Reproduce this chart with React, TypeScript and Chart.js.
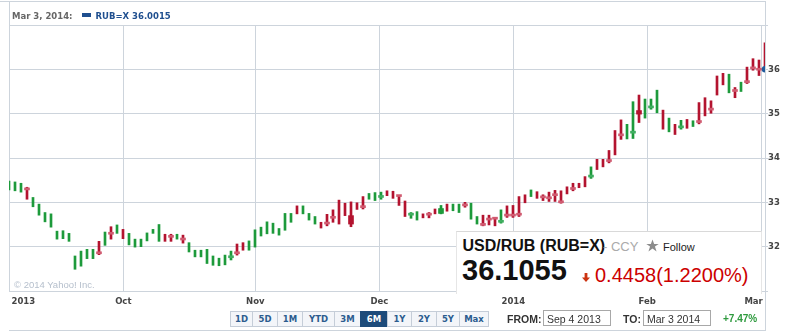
import React, { useEffect, useRef } from 'react';
import { Chart, registerables } from 'chart.js';

Chart.register(...registerables);

// ---- data ----
const highs = [
  33.48, 33.46, 33.43, 33.34, 33.11, 32.96, 32.77, 32.74, 32.35, 32.36,
  32.30, 31.79, 31.90, 31.94, 31.94, 32.12, 32.33, 32.45, 32.49, 32.39,
  32.30, 32.17, 32.17, 32.31, 32.39, 32.50, 32.28, 32.28, 32.28, 32.26,
  32.09, 31.92, 31.92, 31.94, 31.79, 31.74, 31.81, 31.90, 32.06, 32.09,
  32.13, 32.38, 32.44, 32.56, 32.53, 32.41, 32.75, 32.75, 32.92, 32.92,
  32.75, 32.68, 32.55, 32.73, 32.83, 33.05, 32.98, 33.01, 32.99, 33.13,
  33.20, 33.22, 33.23, 33.26, 33.25, 33.14, 33.03, 32.77, 32.79, 32.74,
  32.77, 32.85, 32.93, 32.96, 32.96, 32.96, 33.00, 32.98, 32.68, 32.71,
  32.71, 32.66, 32.83, 32.92, 32.93, 33.13, 33.17, 33.28, 33.24, 33.17,
  33.23, 33.27, 33.26, 33.35, 33.43, 33.43, 33.58, 33.80, 33.97, 33.97,
  34.17, 34.62, 34.86, 34.76, 35.27, 35.42, 35.33, 35.33, 35.53, 35.08,
  34.90, 34.76, 34.85, 34.87, 34.84, 35.25, 35.36, 35.29, 35.85, 35.91,
  35.89, 35.59, 35.71, 36.05, 36.24, 36.21, 36.60,
];
const lows = [
  33.28, 33.26, 33.23, 33.07, 32.90, 32.71, 32.56, 32.44, 32.17, 32.18,
  32.12, 31.49, 31.56, 31.73, 31.73, 31.82, 32.03, 32.17, 32.30, 32.18,
  32.04, 31.99, 32.00, 32.13, 32.30, 32.12, 32.12, 32.12, 32.17, 32.08,
  31.88, 31.77, 31.77, 31.62, 31.58, 31.57, 31.59, 31.70, 31.81, 31.92,
  31.92, 31.99, 32.24, 32.29, 32.30, 32.26, 32.37, 32.55, 32.74, 32.74,
  32.60, 32.51, 32.42, 32.47, 32.55, 32.51, 32.70, 32.45, 32.84, 32.85,
  33.07, 33.04, 33.07, 33.15, 33.09, 32.93, 32.68, 32.64, 32.60, 32.65,
  32.65, 32.74, 32.74, 32.80, 32.81, 32.77, 32.89, 32.62, 32.51, 32.47,
  32.49, 32.47, 32.53, 32.66, 32.66, 32.68, 32.99, 33.13, 33.09, 33.04,
  33.02, 33.02, 32.98, 33.19, 33.26, 33.33, 33.35, 33.54, 33.74, 33.80,
  33.89, 34.07, 34.42, 34.43, 34.44, 34.80, 34.90, 35.10, 35.02, 34.65,
  34.59, 34.53, 34.65, 34.67, 34.71, 34.77, 34.95, 35.01, 35.42, 35.65,
  35.47, 35.36, 35.50, 35.68, 35.98, 35.86, 35.98,
];
const N = null;
const opens = [
  N, N, N, 33.28, N, N, N, N, N, N,
  N, N, N, N, N, 31.84, N, 32.28, N, N,
  N, N, N, N, N, N, N, 32.25, N, 32.15,
  N, N, N, N, N, N, N, 31.75, 31.84, N,
  N, N, N, N, N, N, N, N, N, N,
  N, N, N, 32.51, 32.64, N, N, 32.70, N, 32.88,
  N, N, 33.11, N, N, 33.13, N, 32.71, N, N,
  32.71, N, 32.75, N, N, N, 32.92, N, N, 32.48,
  32.60, 32.62, 32.55, 32.69, 32.69, 32.71, N, N, N, 33.10,
  33.08, 33.15, 32.99, N, 33.29, N, N, 33.57, N, N,
  33.92, N, 34.50, N, 34.56, 35.07, N, 35.13, N, N,
  N, N, 34.68, N, N, 34.80, N, 35.08, N, N,
  N, 35.50, N, 35.70, 36.01, 35.98, N,
];
const closes = [
  N, N, N, 33.28, N, N, N, N, N, N,
  N, N, N, N, N, 31.84, N, 32.28, N, N,
  N, N, N, N, N, N, N, 32.21, N, 32.15,
  N, N, N, N, N, N, N, 31.75, 31.84, N,
  N, N, N, N, N, N, N, N, N, N,
  N, N, N, 32.51, 32.64, N, N, 32.51, N, 32.88,
  N, N, 33.11, N, N, 33.13, N, 32.71, N, N,
  32.71, N, 32.86, N, N, N, 32.92, N, N, 32.48,
  32.60, 32.62, 32.55, 32.69, 32.69, 32.71, N, N, N, 33.10,
  33.08, 33.15, 32.99, N, 33.29, N, N, 33.57, N, N,
  33.92, N, 34.50, N, 34.56, 34.99, N, 35.13, N, N,
  N, N, 34.68, N, N, 34.80, N, 35.08, N, N,
  N, 35.50, N, 35.70, 36.01, 35.98, N,
];
const directions = (
  'uuuduuuuuu' + 'uuuuududud' + 'uuuuuuddud' + 'uuuuuuuudd' + 'uuuuuuuudu' +
  'uudddddddd' + 'uuudddduud' + 'dduduuduud' + 'dduddddudd' + 'dddddddudd' +
  'ddduuduuud' + 'udududdddd' + 'ududddd'
).split('');
const lastPrice = 36.0015;
const xTickPos = [0, 19.05, 41.05, 61.72, 84.05, 106.38, 125.38];
const xTickLabels = ['2013', 'Oct', 'Nov', 'Dec', '2014', 'Feb', 'Mar'];
const yTickLabels = [32, 33, 34, 35, 36];
const rangeLabels = ['1D', '5D', '1M', 'YTD', '3M', '6M', '1Y', '2Y', '5Y', 'Max'];
const activeRange = '6M';

// ---- styling ----
const GRID = '#cdd4dc';
const GREEN = '#1d9a3b';
const RED = '#b3132f';
const PINK = '#d05a70';
const LGREEN = '#3fae60';
const BLUE = '#1f4f8f';
const SMALL_FONT = '"DejaVu Sans", Verdana, sans-serif';
const ARIAL = '"Liberation Sans", Arial, sans-serif';
const buttonWidths = [23, 25, 25, 32, 26, 27, 24, 25, 23, 29];

const xLabelPlugin = {
  id: 'xlabels',
  afterDraw(chart: any) {
    const s = chart.scales.x;
    const ctx = chart.ctx;
    ctx.save();
    ctx.font = `bold 8.5px ${SMALL_FONT}`;
    ctx.fillStyle = '#444';
    ctx.textBaseline = 'alphabetic';
    xTickPos.forEach((v, i) => {
      const px = s.getPixelForValue(v);
      let align = 'center';
      let dx = 0;
      if (i === 0) { align = 'left'; dx = 2.5; }
      else if (i === xTickPos.length - 1) { align = 'right'; dx = 1.5; }
      ctx.textAlign = align;
      ctx.fillText(xTickLabels[i], px + dx, 304);
    });
    ctx.restore();
  },
};

function App() {
  const ref = useRef<HTMLCanvasElement | null>(null);

  useEffect(() => {
    if (!ref.current) return;
    const idx = highs.map((_, i) => i);
    const bodyIdx = idx.filter((i) => opens[i] !== null);
    const chart = new Chart(ref.current, {
      type: 'bar',
      data: {
        datasets: [
          {
            type: 'scatter',
            data: [{ x: highs.length - 1, y: lastPrice }],
            pointRadius: 3.2,
            pointBackgroundColor: '#1f5a9c',
            pointBorderWidth: 0,
            clip: 0,
            order: 0,
          } as any,
          {
            type: 'bar',
            data: bodyIdx.map((i) => ({ x: i, y: [opens[i] as number, closes[i] as number] })),
            backgroundColor: bodyIdx.map((i) => {
              const big = Math.abs((opens[i] as number) - (closes[i] as number)) > 0.04;
              if (directions[i] === 'u') return big ? GREEN : LGREEN;
              return big ? RED : PINK;
            }),
            barThickness: 5,
            minBarLength: 2,
            grouped: false,
            order: 1,
          } as any,
          {
            type: 'bar',
            data: idx.map((i) => ({ x: i, y: [lows[i], highs[i]] })),
            backgroundColor: idx.map((i) => (directions[i] === 'u' ? GREEN : RED)),
            barThickness: 2,
            grouped: false,
            order: 2,
          } as any,
        ],
      },
      options: {
        responsive: false,
        animation: false,
        layout: { padding: { left: 9, top: 25, right: 0, bottom: 0 } },
        plugins: { legend: { display: false }, tooltip: { enabled: false } },
        scales: {
          x: {
            type: 'linear',
            min: 0,
            max: highs.length - 1,
            offset: false,
            afterBuildTicks: (s: any) => {
              s.ticks = xTickPos.map((v) => ({ value: v }));
            },
            afterFit: (s: any) => { s.height = 41; },
            ticks: { display: false },
            grid: { color: GRID, drawTicks: false, offset: false, lineWidth: 1 },
            border: { display: true, color: GRID },
          },
          y: {
            position: 'right',
            min: 31,
            max: 37,
            afterFit: (s: any) => { s.width = 22; },
            ticks: {
              stepSize: 1,
              padding: 0,
              color: '#444',
              font: { family: SMALL_FONT, size: 8.5, weight: 'bold' },
              callback: (v: any) => (yTickLabels.includes(Number(v)) ? String(v) : ''),
            },
            grid: { color: GRID, tickLength: 3, lineWidth: 1 },
            border: { display: true, color: GRID },
          },
        } as any,
      },
      plugins: [xLabelPlugin],
    } as any);
    return () => chart.destroy();
  }, []);

  const abs = (o: React.CSSProperties): React.CSSProperties => ({ position: 'absolute', whiteSpace: 'nowrap', lineHeight: 1, ...o });

  return (
    <div style={{ position: 'absolute', left: 0, top: 0, width: 787, height: 332, background: '#fff', overflow: 'hidden' }}>
      <canvas ref={ref} width={787} height={332} style={{ display: 'block', position: 'absolute', left: 0, top: 0 }} />
      {/* frame lines */}
      <div style={abs({ left: 0, top: 1, width: 766, height: 1, background: GRID })} />
      <div style={abs({ left: 9, top: 1, width: 1, height: 24, background: GRID })} />
      <div style={abs({ left: 765, top: 1, width: 1, height: 330, background: GRID })} />
      <div style={abs({ left: 9, top: 330, width: 757, height: 1, background: GRID })} />

      {/* header */}
      <div style={abs({ left: 12, top: 12.2, fontFamily: SMALL_FONT, fontWeight: 'bold', fontSize: 8.5, color: '#666' })}>Mar 3, 2014:</div>
      <div style={abs({ left: 82, top: 13, width: 9, height: 4, background: BLUE })} />
      <div style={abs({ left: 95.5, top: 12.2, fontFamily: SMALL_FONT, fontWeight: 'bold', fontSize: 8.5, color: BLUE })}>RUB=X 36.0015</div>

      {/* copyright */}
      <div style={abs({ left: 14, top: 279.5, fontFamily: ARIAL, fontSize: 9.5, color: '#b5bfcc' })}>© 2014 Yahoo! Inc.</div>

      {/* quote box */}
      <div style={abs({ left: 456, top: 231, width: 304, height: 62, background: '#fff', borderTop: '1px solid #d9d9d9', borderLeft: '1px solid #e6e6e6', borderRight: '1px solid #e6e6e6' })} />
      <div style={abs({ left: 462.5, top: 237.5, fontFamily: ARIAL, fontWeight: 'bold', fontSize: 16, color: '#111' })}>USD/RUB (RUB=X)</div>
      <div style={abs({ left: 603, top: 240, fontFamily: ARIAL, fontSize: 13, color: '#aaa' })}>- CCY</div>
      <svg style={abs({ left: 646, top: 239 })} width={13} height={13} viewBox="0 0 24 24">
        <polygon points="12,1 15,9 23.5,9 16.5,14 19.5,23 12,17.5 4.5,23 7.5,14 0.5,9 9,9" fill="#8c8c8c" />
      </svg>
      <div style={abs({ left: 663, top: 241.7, fontFamily: ARIAL, fontSize: 11, color: '#222' })}>Follow</div>
      <div style={abs({ left: 462, top: 255.5, fontFamily: ARIAL, fontWeight: 'bold', fontSize: 29, color: '#111' })}>36.1055</div>
      <svg style={abs({ left: 582, top: 273 })} width={8} height={9} viewBox="0 0 8 9">
        <rect x={2.6} y={0} width={2.8} height={5} fill="#cc3311" />
        <polygon points="0,4.5 8,4.5 4,9" fill="#cc3311" />
      </svg>
      <div style={abs({ left: 595, top: 265.4, fontFamily: ARIAL, fontSize: 20, color: '#cc0000' })}>0.4458(1.2200%)</div>

      {/* range buttons */}
      <div style={abs({ left: 230, top: 311, display: 'flex' })}>
        {rangeLabels.map((r, i) => {
          const active = r === activeRange;
          return (
            <div key={r} style={{
              boxSizing: 'border-box', width: buttonWidths[i] + (i > 0 ? 1 : 0), height: 16, marginLeft: i > 0 ? -1 : 0,
              border: `1px solid ${active ? '#1d4b7a' : '#c5cdd8'}`, background: active ? '#1d4b7a' : '#f3f5f9',
              color: active ? '#fff' : '#2b5c8f', fontFamily: SMALL_FONT, fontWeight: 'bold', fontSize: 8.5,
              display: 'flex', alignItems: 'center', justifyContent: 'center', lineHeight: 1,
            }}>{r}</div>
          );
        })}
      </div>

      {/* from / to */}
      <div style={abs({ left: 507, top: 313.5, fontFamily: ARIAL, fontWeight: 'bold', fontSize: 10.5, color: '#333' })}>FROM:</div>
      <div style={abs({ left: 543, top: 310, width: 68, height: 16, boxSizing: 'border-box', border: '1px solid #a8a8a8' })} />
      <div style={abs({ left: 547, top: 313.5, fontFamily: ARIAL, fontSize: 10.5, color: '#333' })}>Sep 4 2013</div>
      <div style={abs({ left: 623, top: 313.5, fontFamily: ARIAL, fontWeight: 'bold', fontSize: 10.5, color: '#333' })}>TO:</div>
      <div style={abs({ left: 643, top: 310, width: 68, height: 16, boxSizing: 'border-box', border: '1px solid #a8a8a8' })} />
      <div style={abs({ left: 647, top: 313.5, fontFamily: ARIAL, fontSize: 10.5, color: '#333' })}>Mar 3 2014</div>
      <div style={abs({ left: 723, top: 313.8, fontFamily: ARIAL, fontWeight: 'bold', fontSize: 10, color: '#2e9a3e' })}>+7.47%</div>
    </div>
  );
}

export default App;
